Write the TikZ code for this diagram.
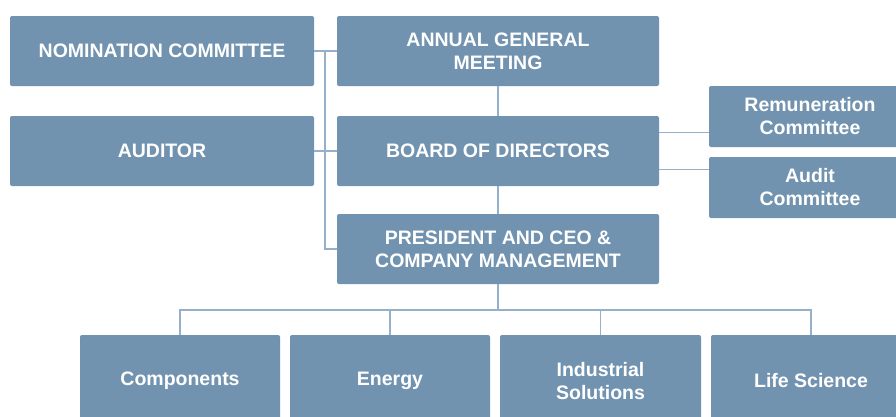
\documentclass[tikz,border=0pt]{standalone}
\usepackage{fontspec}
\setmainfont{Liberation Sans}
\definecolor{boxblue}{RGB}{113,147,176}
\definecolor{lineblue}{RGB}{150,176,202}
\tikzset{
  unit/.style = {fill=boxblue, text=white, rounded corners=2pt, align=center,
    inner sep=0pt, font=\fontsize{19.5}{23}\selectfont\bfseries},
  link/.style = {draw=lineblue, line width=1.8pt}
}
\begin{document}
\begin{tikzpicture}[x=1pt, y=-1pt]
\useasboundingbox (0,0) rectangle (896,416);
\clip (0,0) rectangle (896,416);
% top part
\node[unit, minimum width=304pt, minimum height=70pt] (nom) at (162,51) {NOMINATION COMMITTEE};
\node[unit, minimum width=322pt, minimum height=70pt] (agm) at (498,51) {ANNUAL GENERAL\\MEETING};
\node[unit, minimum width=304pt, minimum height=70pt] (aud) at (162,151) {AUDITOR};
\node[unit, minimum width=322pt, minimum height=70pt] (board) at (498,151) {BOARD OF DIRECTORS};
\node[unit, minimum width=322pt, minimum height=70pt] (ceo) at (498,249) {PRESIDENT AND CEO \&\\COMPANY MANAGEMENT};
% committees
\node[unit, minimum width=202pt, minimum height=61pt] (rem) at (810,116.5) {Remuneration\\Committee};
\node[unit, minimum width=202pt, minimum height=61pt] (audc) at (810,187.5) {Audit\\Committee};
% business areas
\node[unit, minimum width=200pt, minimum height=92pt] (comp) at (180,381) {Components};
\node[unit, minimum width=200pt, minimum height=92pt] (ener) at (390,381) {Energy};
\node[unit, minimum width=201pt, minimum height=92pt] (ind) at (600.5,381) {Industrial\\Solutions};
\node[unit, minimum width=200pt, minimum height=92pt] (life) at (811,381) {Life Science};

\coordinate (spine) at (325,51);
\coordinate (fork) at (498,310);
\draw[link] (nom.east) -- (agm.west);
\draw[link] (aud.east) -- (board.west);
\draw[link] (spine) |- (ceo.west);
\draw[link] (agm) -- (board);
\draw[link] (board) -- (ceo);
\draw[link] (board.east |- rem.west) ++(0,16) -- ++(50,0);
\draw[link] (board.east |- audc.west) ++(0,-18) -- ++(50,0);
\draw[link] (ceo.south) -- (fork);
\foreach \n in {comp,ener,ind,life}
  \draw[link] (fork) -| (\n.north);
\end{tikzpicture}
\end{document}
